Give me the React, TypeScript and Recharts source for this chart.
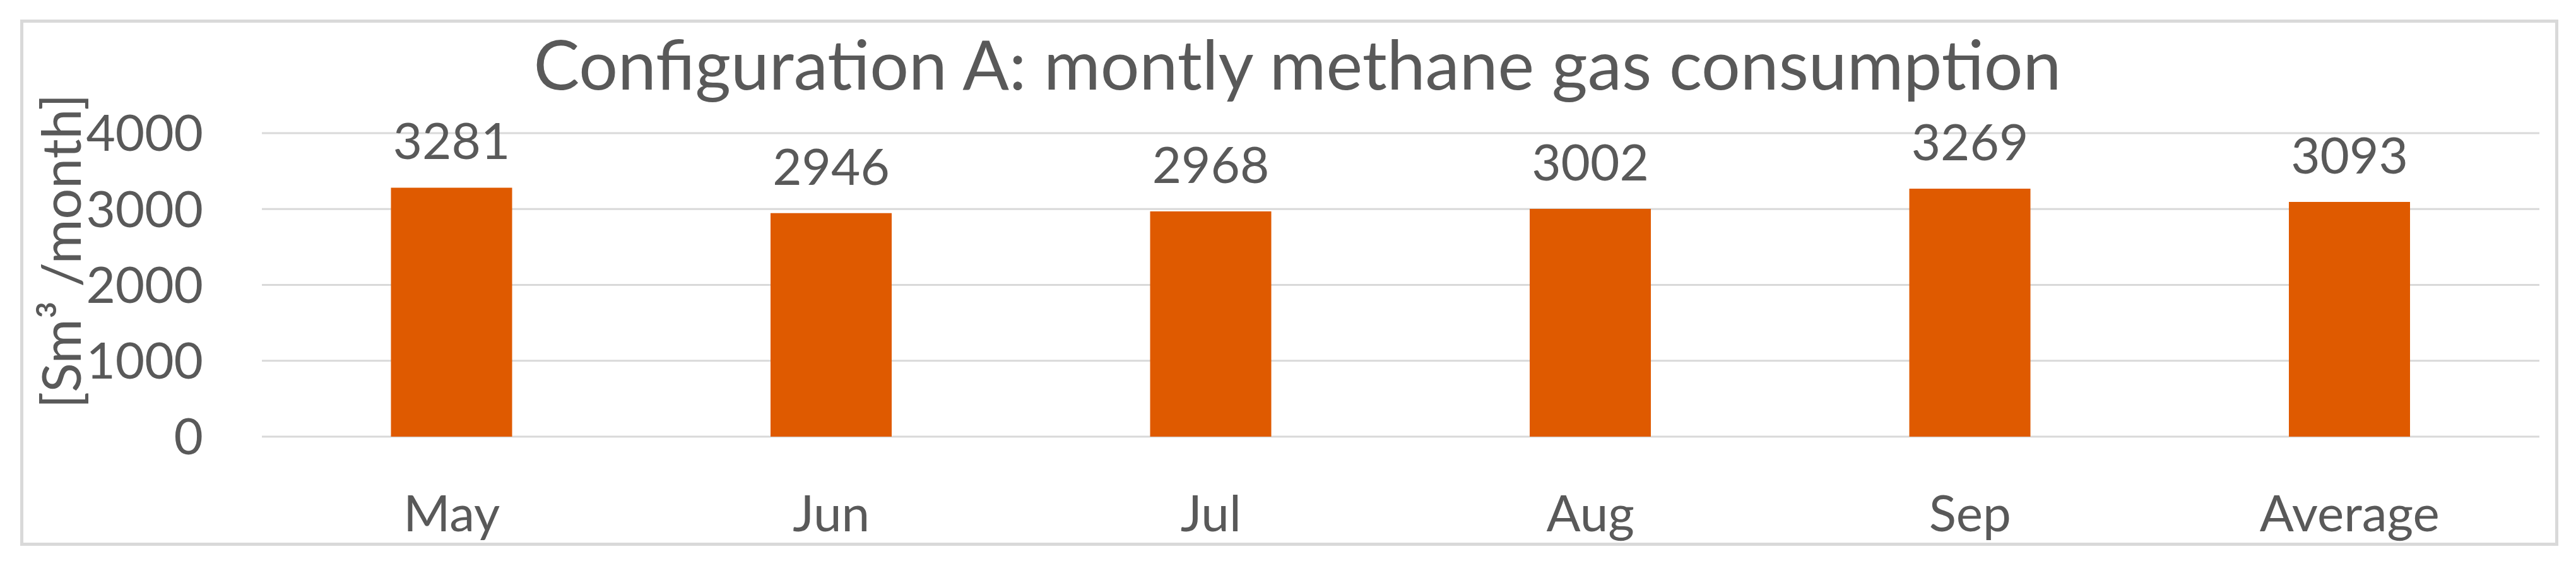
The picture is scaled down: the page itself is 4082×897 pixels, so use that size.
import { Bar, BarChart, CartesianGrid, LabelList, XAxis, YAxis } from 'recharts';

// monthly methane gas consumption, Configuration A
const months = ['May', 'Jun', 'Jul', 'Aug', 'Sep', 'Average'];
const consumption = [3281, 2946, 2968, 3002, 3269, 3093];
const yTicks = [0, 1000, 2000, 3000, 4000];

const data = months.map((month, i) => ({ month, value: consumption[i] }));

const FONT = 'Lato, "Open Sans", sans-serif';
const TEXT = '#595959';
const BAR = '#DF5A00';

function YTitle() {
  return (
    <text
      x={94}
      y={398}
      transform="rotate(-90 94 398)"
      textAnchor="middle"
      dominantBaseline="central"
      fill={TEXT}
      fontSize={86}
      fontFamily={FONT}
    >
      [Sm³ /month]
    </text>
  );
}

export default function App() {
  return (
    <div style={{ position: 'absolute', left: 0, top: 0, width: 4082, height: 897, background: '#fff' }}>
      <div
        style={{
          position: 'absolute',
          left: 32,
          top: 31,
          width: 4022,
          height: 834,
          border: '5px solid #d9d9d9',
          boxSizing: 'border-box',
        }}
      />
      <div
        style={{
          position: 'absolute',
          left: 0,
          width: 4112,
          top: 38,
          textAlign: 'center',
          fontFamily: FONT,
          fontSize: 109,
          color: TEXT,
          lineHeight: '124px',
        }}
      >
        Configuration A: montly methane gas consumption
      </div>
      <div style={{ position: 'absolute', left: 0, top: 0 }}>
        <BarChart width={4082} height={897} data={data} margin={{ top: 211, right: 58, bottom: 0, left: 0 }} barCategoryGap="34%">
          <CartesianGrid vertical={false} stroke="#d9d9d9" strokeWidth={3} />
          <XAxis
            dataKey="month"
            axisLine={false}
            tickLine={false}
            tickSize={0}
            tickMargin={93}
            height={205}
            tick={{ fill: TEXT, fontSize: 80, fontFamily: FONT }}
          />
          <YAxis
            width={415}
            domain={[0, 4000]}
            ticks={yTicks}
            axisLine={false}
            tickLine={false}
            tickSize={0}
            tickMargin={93}
            tick={{ fill: TEXT, fontSize: 80, fontFamily: FONT }}
            label={{ content: () => <YTitle /> }}
          />
          <Bar dataKey="value" fill={BAR} isAnimationActive={false}>
            <LabelList dataKey="value" position="top" offset={45} fill={TEXT} fontSize={80} fontFamily={FONT} />
          </Bar>
        </BarChart>
      </div>
    </div>
  );
}
